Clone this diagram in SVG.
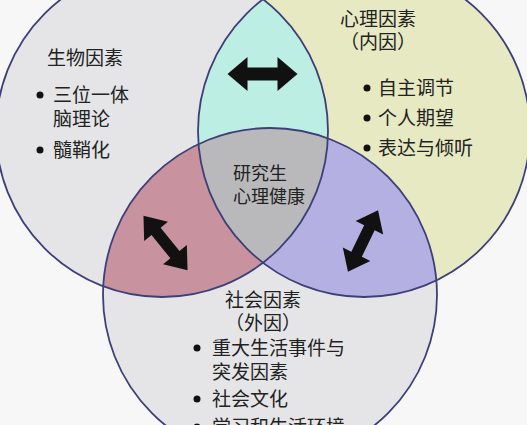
<svg xmlns="http://www.w3.org/2000/svg" xmlns:xlink="http://www.w3.org/1999/xlink" width="527" height="425" viewBox="0 0 527 425">
<style>
.outline{fill:none;stroke:#3d3f78;stroke-width:1.8}
.t{font-family:"Noto Sans CJK SC","Noto Sans CJK JP",sans-serif;font-size:19px;fill:#222}
.tc{font-family:"Noto Sans CJK SC","Noto Sans CJK JP",sans-serif;font-size:18px;fill:#222}
.dot{fill:#111}
.arrow{fill:#111}
</style>
<defs>
<clipPath id="clipL"><circle cx="162" cy="131" r="166"/></clipPath>
<clipPath id="clipR"><circle cx="364" cy="131" r="166"/></clipPath>
<path id="dbl" d="M-35,0 L-15,-17 L-15,-6.5 L15,-6.5 L15,-17 L35,0 L15,17 L15,6.5 L-15,6.5 L-15,17 Z"/>
</defs>
<rect width="527" height="425" fill="#f7f7f7"/>
<g id="regions">
<circle cx="162" cy="131" r="166" fill="#e5e5e7"/>
<circle cx="364" cy="131" r="166" fill="#e6e9c2"/>
<circle cx="270" cy="295" r="167" fill="#e5e5e7"/>
<circle cx="364" cy="131" r="166" fill="#bdeee3" clip-path="url(#clipL)"/>
<circle cx="270" cy="295" r="167" fill="#c8929e" clip-path="url(#clipL)"/>
<circle cx="270" cy="295" r="167" fill="#b5b0e2" clip-path="url(#clipR)"/>
<g clip-path="url(#clipL)"><circle cx="270" cy="295" r="167" fill="#b9b9bb" clip-path="url(#clipR)"/></g>
</g>
<g id="bio">
<circle class="outline" cx="162" cy="131" r="166"/>
<text class="t" x="47" y="65">生物因素</text>
<circle class="dot" cx="40" cy="95" r="3.5"/>
<text class="t" x="53" y="102">三位一体</text>
<text class="t" x="53" y="126">脑理论</text>
<circle class="dot" cx="40" cy="150" r="3.5"/>
<text class="t" x="53" y="157">髓鞘化</text>
</g>
<g id="psy">
<circle class="outline" cx="364" cy="131" r="166"/>
<text class="t" x="378" y="26" text-anchor="middle">心理因素</text>
<text class="t" x="378" y="49" text-anchor="middle">（内因）</text>
<circle class="dot" cx="367" cy="88" r="3.5"/>
<text class="t" x="378" y="95">自主调节</text>
<circle class="dot" cx="367" cy="118" r="3.5"/>
<text class="t" x="378" y="125">个人期望</text>
<circle class="dot" cx="367" cy="148" r="3.5"/>
<text class="t" x="378" y="155">表达与倾听</text>
</g>
<g id="soc">
<circle class="outline" cx="270" cy="295" r="167"/>
<text class="t" x="263" y="307" text-anchor="middle">社会因素</text>
<text class="t" x="263" y="330" text-anchor="middle">（外因）</text>
<circle class="dot" cx="197" cy="348" r="3.5"/>
<text class="t" x="212" y="355">重大生活事件与</text>
<text class="t" x="212" y="379">突发因素</text>
<circle class="dot" cx="197" cy="399" r="3.5"/>
<text class="t" x="212" y="406">社会文化</text>
<circle class="dot" cx="197" cy="427" r="3.5"/>
<text class="t" x="212" y="434">学习和生活环境</text>
</g>
<g id="center">
<text class="tc" x="233" y="180">研究生</text>
<text class="tc" x="233" y="203">心理健康</text>
</g>
<g id="connectors">
<use xlink:href="#dbl" class="arrow" transform="translate(262.5,74)"/>
<use xlink:href="#dbl" class="arrow" transform="translate(165.5,243) rotate(51) scale(1,0.9)"/>
<use xlink:href="#dbl" class="arrow" transform="translate(363,241) rotate(116) scale(0.98,0.9)"/>
</g>
</svg>
